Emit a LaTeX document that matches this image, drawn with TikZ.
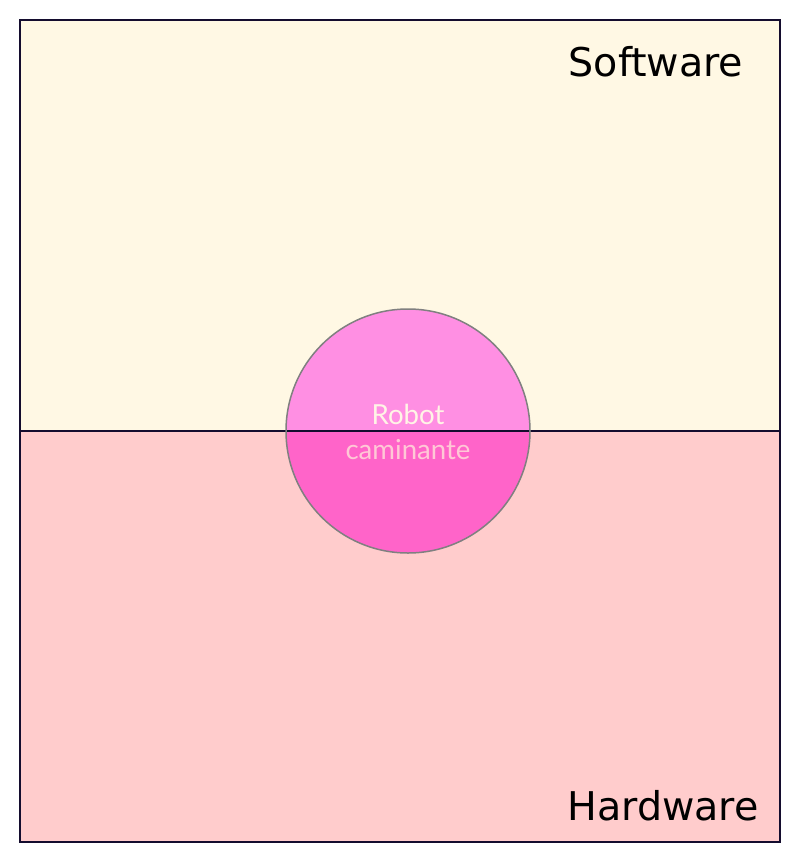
\documentclass[tikz,border=0pt]{standalone}
\usepackage{fontspec}
\setmainfont{DejaVu Sans}
\newfontfamily\latofont{Lato}
\definecolor{softfill}{HTML}{FFF8E4}
\definecolor{hardfill}{HTML}{FFCCCC}
\definecolor{framecol}{HTML}{140C2E}
\definecolor{robtop}{HTML}{FF8FE3}
\definecolor{robbot}{HTML}{FF64C9}
\definecolor{robline}{HTML}{808080}
\definecolor{robtxtA}{HTML}{FFF4E6}
\definecolor{robtxtB}{HTML}{FFC8D6}
\begin{document}
\begin{tikzpicture}[
  x=1pt, y=-1pt,
  every node/.style={inner sep=0pt},
  zone/.style={draw=framecol, line width=2pt},
  area/.style={anchor=base, font=\fontsize{39.6}{46}\selectfont},
  robtext/.style={anchor=base, font=\latofont\fontsize{27.6}{33}\selectfont}]

  \useasboundingbox (0,0) rectangle (801,863);

  % ---- zones --------------------------------------------------------------
  \fill[softfill] (20,20) rectangle (780,431);
  \fill[hardfill] (20,431) rectangle (780,842);

  % ---- robot (y runs down, so the arc signs swap) -------------------------
  \coordinate (C) at (408,431);
  \fill[robtop] (286,431) arc[start angle=-180, end angle=0, radius=122] -- cycle;
  \fill[robbot] (286,431) arc[start angle=180, end angle=0, radius=122] -- cycle;
  \draw[zone] (20,20) rectangle (780,842);
  \draw[zone] (20,431) -- (780,431);
  \draw[robline, line width=1.5pt] (C) circle[radius=122];

  % ---- labels -------------------------------------------------------------
  \node[area] (soft) at (656,76) {Software};
  \node[area] (hard) at (663,820) {Hardware};
  \node[robtext, text=robtxtA] (rob1) at (408,424) {Robot};
  \node[robtext, text=robtxtB] (rob2) at (408,459) {caminante};
\end{tikzpicture}
\end{document}
